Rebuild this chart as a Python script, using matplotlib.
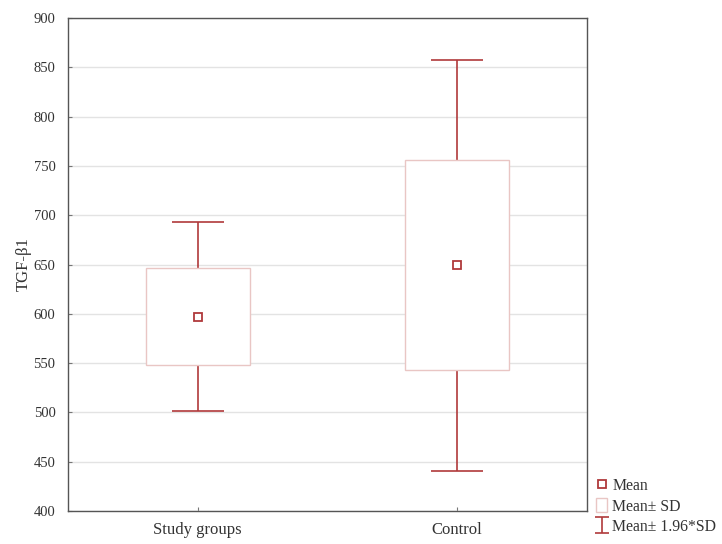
import matplotlib
matplotlib.use('Agg')
import matplotlib.pyplot as plt
from matplotlib.patches import Rectangle, Patch
from matplotlib.lines import Line2D

groups = ['Study groups', 'Control']
means = [597, 649]
sds = [49, 106.5]
whisker_k = 1.96

plt.rcParams['font.family'] = ['Liberation Serif', 'DejaVu Serif']
plt.rcParams['font.size'] = 10.5

red = '#B0393B'
pink = '#E9C6C4'
txt = '#333333'

fig = plt.figure(figsize=(7.22, 5.44), dpi=100)
ax = fig.add_axes([68 / 722, 1 - 511 / 544, 519 / 722, 493 / 544])

xs = list(range(1, len(groups) + 1))
err = [whisker_k * s for s in sds]
ax.errorbar(xs, means, yerr=err, fmt='none', ecolor=red, elinewidth=1.2,
            capsize=18.5, capthick=1.2, zorder=2)

for x, m, s in zip(xs, means, sds):
    ax.add_patch(Rectangle((x - 0.2, m - s), 0.4, 2 * s, facecolor='white',
                           edgecolor=pink, linewidth=1.0, zorder=3))
ax.plot(xs, means, linestyle='none', marker='s', markersize=6,
        markerfacecolor='white', markeredgecolor=red, markeredgewidth=1.3, zorder=4)

ax.set_xlim(0.5, 2.5)
ax.set_ylim(400, 900)
ax.set_yticks(range(400, 901, 50))
ax.set_xticks(xs)
ax.set_xticklabels(groups)
ax.yaxis.grid(True, color='#E3E3E3', linewidth=1.0)
ax.set_axisbelow(True)
ax.tick_params(axis='both', direction='in', length=3, width=0.8, color='#777777',
               labelcolor=txt)
ax.tick_params(axis='y', pad=9, labelsize=10.5)
ax.tick_params(axis='x', pad=8, labelsize=12)
for sp in ax.spines.values():
    sp.set_color('#555555')
    sp.set_linewidth(1.0)
ax.set_ylabel('TGF-β1', color=txt, labelpad=1, fontsize=12)

# small errorbar only for the legend key
kax = fig.add_axes([0, 0, 0.01, 0.01])
kax.set_axis_off()
kax.set_xlim(5, 6)
key_eb = kax.errorbar([0], [0], yerr=[1], fmt='none', ecolor=red, elinewidth=1.2,
                      capsize=5.0, capthick=1.2)

h_mean = Line2D([], [], linestyle='none', marker='s', markersize=6,
                markerfacecolor='white', markeredgecolor=red, markeredgewidth=1.3)
h_sd = Patch(facecolor='white', edgecolor=pink, linewidth=1.0)
leg = fig.legend([h_mean, h_sd, key_eb], ['Mean', 'Mean± SD', 'Mean± 1.96*SD'],
                 loc='lower left', bbox_to_anchor=(587 / 722, 0.0), frameon=False,
                 handlelength=0.75, handletextpad=0.3, labelspacing=0.28,
                 borderaxespad=0.15, fontsize=11.3, handleheight=1.0)
for t in leg.get_texts():
    t.set_color(txt)

fig.savefig('out.png', dpi=100)
